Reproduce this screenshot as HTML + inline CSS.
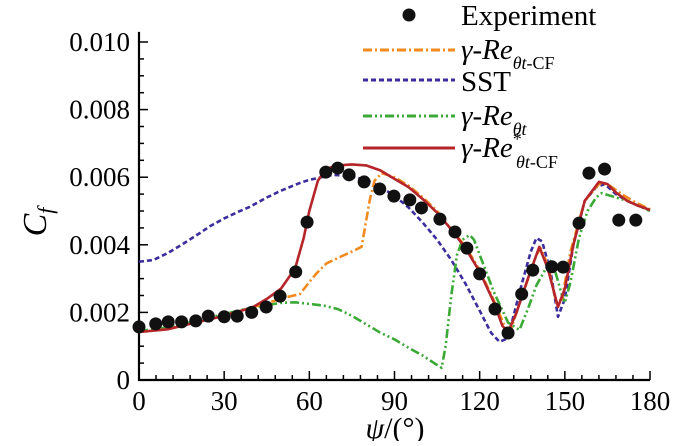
<!DOCTYPE html>
<html><head><meta charset="utf-8"><style>
body{margin:0;background:#fff}
svg text{font-family:"Liberation Serif",serif;fill:#000}
</style></head><body>
<svg id="chart" width="700" height="441" viewBox="0 0 700 441" xmlns="http://www.w3.org/2000/svg">
<g id="axes"></g>
<g id="series"></g>
<g id="legend"></g>
<text transform="translate(46,222) rotate(-90)" font-size="34" font-style="italic" text-anchor="middle">C<tspan font-size="22" dy="7">f</tspan></text>
<text x="395" y="438" font-size="30" text-anchor="middle"><tspan font-style="italic">ψ</tspan>/(°)</text>
</svg>
<script>
const xTicks=[0,30,60,90,120,150,180];
const yTicks=[0,0.002,0.004,0.006,0.008,0.010];
const yTickLabels=["0","0.002","0.004","0.006","0.008","0.010"];
const expX=[0,5.9,10.3,15,20,24.4,30,34.6,39.7,44.8,49.7,55.2,59.2,65.8,70,74,79.3,84.8,89.8,95.4,99.5,106,111.3,115.5,120,125.4,130,134.8,138.7,145.4,149.4,155,158.5,164,169,175];
const expY=[1.57,1.66,1.72,1.72,1.75,1.89,1.87,1.89,2.0,2.16,2.48,3.2,4.67,6.15,6.27,6.07,5.86,5.65,5.44,5.33,5.09,4.76,4.38,3.9,3.14,2.1,1.39,2.54,3.25,3.35,3.34,4.64,6.12,6.24,4.73,4.73];
const redX=[0,10,20,30,40,45,50,55,58,60,63,66,70,75,80,85,90,95,100,105,110,115,120,125,128,130,133,137,141,144,147.6,150,153,157,162,165,168,172,176,180];
const redY=[1.42,1.5,1.7,1.9,2.15,2.4,2.7,3.3,4.2,5.0,5.9,6.25,6.35,6.38,6.35,6.2,5.95,5.7,5.35,4.95,4.45,3.9,3.2,2.3,1.6,1.42,2.0,3.0,3.94,3.3,2.16,2.7,4.0,5.3,5.86,5.8,5.55,5.3,5.15,5.03];
const orgX=[0,10,20,30,40,48,52,56.7,60,62.6,66,70.8,75,78.4,81.3,83,85.5,90,95,100,105,110,115,120,125,129,131,135,140,141.5,144,147,149,152,157,162,165,170,175,180];
const orgY=[1.42,1.5,1.7,1.9,2.15,2.35,2.45,2.54,2.9,3.16,3.45,3.64,3.8,3.94,5.33,5.9,6.12,6.0,5.75,5.4,5.0,4.45,3.95,3.25,2.35,1.55,1.5,2.5,3.7,3.9,3.4,2.3,2.4,3.8,5.3,5.8,5.8,5.5,5.25,5.05];
const sstX=[0,5,10,15,21.5,25,30,35,39,45,50,56.7,60,68.3,75,80,85,90,95,100,105,110,115,120,124,127,129,131,135,138,140,142,145,147.6,150,153,157,161,164,168,172,176,180];
const sstY=[3.5,3.55,3.75,4.0,4.35,4.55,4.78,4.98,5.12,5.4,5.6,5.83,5.92,6.07,6.02,5.92,5.72,5.45,5.1,4.65,4.15,3.55,2.85,2.05,1.4,1.13,1.2,1.6,2.9,3.8,4.2,4.1,3.2,1.87,2.4,4.0,5.3,5.7,5.8,5.5,5.3,5.15,5.05];
const grnX=[0,10,20,30,40,50,55,60,65,70,75,80,85,90,95,100,104,106.6,108,110,112,114,116.5,118,120,125,130,134,137,140,143,145.3,147,149,150,152,155,158,161,163,168,172,176,180];
const grnY=[1.45,1.55,1.75,1.95,2.15,2.28,2.3,2.25,2.2,2.1,1.9,1.65,1.4,1.2,0.95,0.72,0.5,0.36,1.0,2.5,3.7,4.15,4.29,4.15,3.7,2.6,1.7,1.48,2.1,2.8,3.25,3.55,3.1,2.5,2.28,2.9,4.2,5.0,5.4,5.53,5.4,5.3,5.15,5.0];
const NS="http://www.w3.org/2000/svg";
const X0=139,X1=650,Y0=380,PX=33.8;
const sx=d=>X0+(X1-X0)*d/180;
const sy=v=>Y0-v*PX;
function mk(t,a,p){const e=document.createElementNS(NS,t);for(const k in a)e.setAttribute(k,a[k]);p.appendChild(e);return e;}
const axes=document.getElementById('axes');
const ax=mk('path',{d:`M${X0},${sy(10.3)}V${Y0}H${X1}`,stroke:'#000','stroke-width':2.2,fill:'none'},axes);


for(let d=0;d<=180;d+=6){const maj=d%30===0;const t=mk('line',{x1:sx(d),x2:sx(d),y1:Y0,y2:Y0-(maj?9:5),stroke:'#000','stroke-width':1.5},axes);

}
xTicks.forEach(d=>{const t=mk('text',{x:sx(d),y:410,'font-size':27,'text-anchor':'middle'},axes);t.textContent=d;

});
for(let v=0;v<=10.01;v+=0.5){const maj=Math.abs(v/2-Math.round(v/2))<0.01;const t=mk('line',{x1:X0,x2:X0+(maj?9:5),y1:sy(v),y2:sy(v),stroke:'#000','stroke-width':1.5},axes);

}
yTicks.forEach((v,i)=>{const t=mk('text',{x:130,y:sy(v*1000)+9,'font-size':27,'text-anchor':'end'},axes);t.textContent=yTickLabels[i];

});
const ser=document.getElementById('series');
function line(xs,ys,col,dash,name){const d=xs.map((x,i)=>(i?'L':'M')+sx(x).toFixed(1)+','+sy(ys[i]).toFixed(1)).join('');
const p=mk('path',{d:d,stroke:col,'stroke-width':2.6,fill:'none','stroke-dasharray':dash,'stroke-linejoin':'round'},ser);

}
line(sstX,sstY,'#3b2d9e','5 3','sst-line');
line(grnX,grnY,'#3aa935','9 3 2 3 2 3','gamma-re-theta-line');
line(orgX,orgY,'#f28a1e','9 3 2 3','gamma-re-cf-line');
line(redX,redY,'#b5252a','','gamma-re-star-line');
expX.forEach((x,i)=>{const c=mk('circle',{cx:sx(x),cy:sy(expY[i]),r:6.5,fill:'#111'},ser);

});
const lg=document.getElementById('legend');
const dot=mk('circle',{cx:409,cy:15,r:6.5,fill:'#111'},lg);


[[50,'#f28a1e','9 3 2 3'],[80,'#3b2d9e','5 3'],[116,'#3aa935','9 3 2 3 2 3'],[148,'#b5252a','']].forEach((r,i)=>{
const l=mk('line',{x1:363,x2:455,y1:r[0],y2:r[0],stroke:r[1],'stroke-width':3,'stroke-dasharray':r[2]},lg);

});
lg.insertAdjacentHTML('beforeend',
`<text x="461" y="25" font-size="29">Experiment</text>
<text x="461" y="59" font-size="29"><tspan font-style="italic">γ</tspan>-<tspan font-style="italic">Re</tspan><tspan font-size="18" dy="10" font-style="italic">θt</tspan><tspan font-size="18">-CF</tspan></text>
<text x="461" y="91" font-size="29">SST</text>
<text x="461" y="125" font-size="29"><tspan font-style="italic">γ</tspan>-<tspan font-style="italic">Re</tspan><tspan font-size="18" dy="10" font-style="italic">θt</tspan></text>
<text x="461" y="157" font-size="29"><tspan font-style="italic">γ</tspan>-<tspan font-style="italic">Re</tspan><tspan font-size="18" dy="-12">*</tspan></text>
<text x="516" y="168" font-size="18"><tspan font-style="italic">θt</tspan>-CF</text>`);
</script>
</body></html>
